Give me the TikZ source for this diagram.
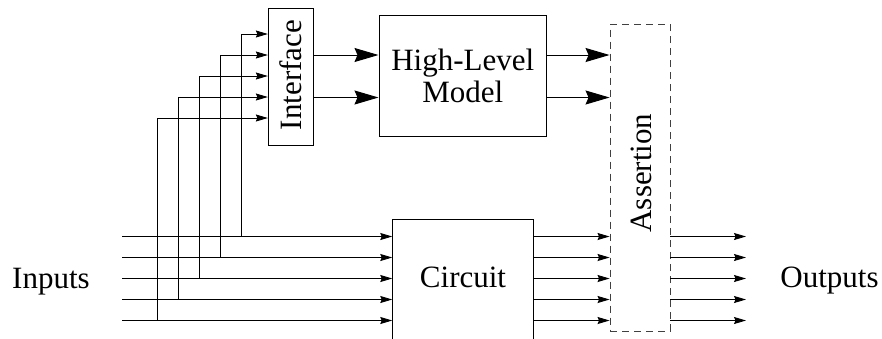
\documentclass[tikz,border=0pt]{standalone}
\usepackage{fontspec}
\setmainfont{Liberation Serif}
\usetikzlibrary{arrows.meta,positioning}

\begin{document}
\begin{tikzpicture}[x=1pt,y=-1pt,
    every node/.style={font=\fontsize{31}{32}\selectfont},
    block/.style={draw, line width=0.9pt, inner sep=0pt},
    dashbox/.style={draw=black!75, line width=0.9pt, dash pattern=on 7pt off 5pt, inner sep=0pt},
    sig/.style={line width=0.9pt, -{Stealth[length=12pt,width=7pt,inset=1.5pt]}},
    bigsig/.style={line width=1pt, -{Stealth[length=24pt,width=14pt,inset=3pt]}}]
    \useasboundingbox (0,0) rectangle (882,338);
    % Blocks
    \node[block, minimum width=45pt, minimum height=137.4pt] (iface) at (290.8,77) {};
    \node[rotate=90] (ifacelbl) at (290.5,75) {Interface};
    \node[block, minimum width=167.7pt, minimum height=121pt, align=center] (hlm) at (462.8,76.2) {High-Level\\Model};
    \node[block, minimum width=140.6pt, minimum height=130pt, anchor=north] (circuit) at (463,218.5) {};
    \node[anchor=base] (circuitlbl) at (463,287) {Circuit};
    \node[dashbox, minimum width=60pt, minimum height=306.7pt] (assert) at (640,177.7) {};
    \node[rotate=90] (assertlbl) at (641.5,173) {Assertion};
    % Labels
    \node[anchor=base] (inputs) at (51,288) {Inputs};
    \node[anchor=base] (outputs) at (829.5,287) {Outputs};
    % Input buses, taps to the interface, outputs
    \foreach \i in {0,...,4}{
        \pgfmathsetmacro{\yin}{236.5+21*\i}
        \pgfmathsetmacro{\xtap}{241.5-21*\i}
        \pgfmathsetmacro{\yif}{34+21*\i}
        \coordinate (in\i) at (122,\yin);
        \coordinate (tap\i) at (\xtap,\yin);
        \coordinate (out\i) at (746,\yin);
        \draw[sig] (in\i) -- (circuit.west |- in\i);
        \draw[sig] (tap\i) |- (iface.west |- 0,\yif);
        \draw[sig] (circuit.east |- in\i) -- (assert.west |- in\i);
        \draw[sig] (assert.east |- in\i) -- (out\i);
    }
    % Model path
    \foreach \y in {55,97.5}{
        \draw[bigsig] (iface.east |- 0,\y) -- (hlm.west |- 0,\y);
        \draw[bigsig] (hlm.east |- 0,\y) -- (assert.west |- 0,\y);
    }
\end{tikzpicture}
\end{document}
